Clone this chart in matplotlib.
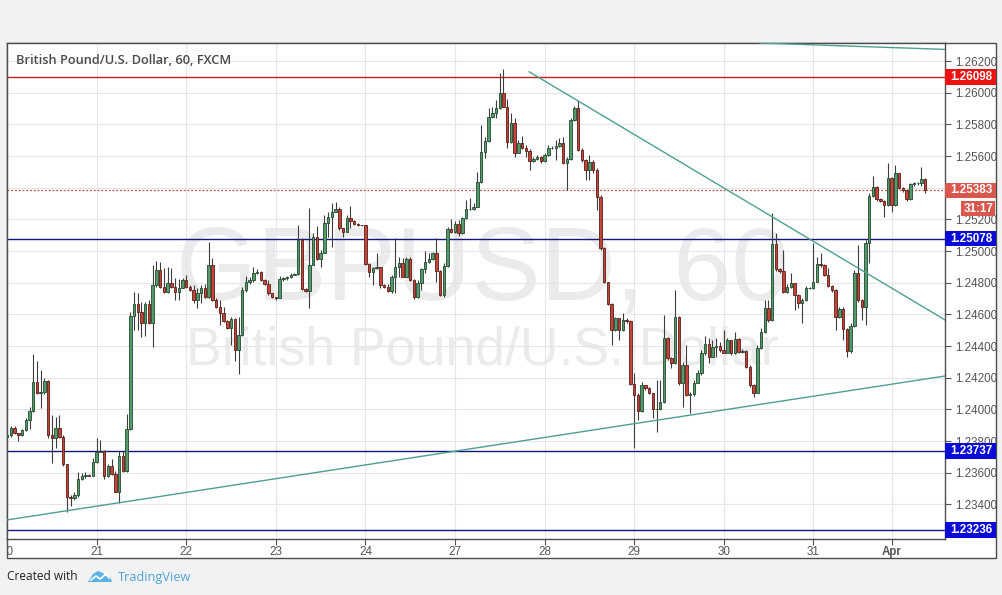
import numpy as np
import matplotlib
matplotlib.use('Agg')
import matplotlib.pyplot as plt
from matplotlib.patches import Rectangle, Polygon
from matplotlib.transforms import Bbox, TransformedBbox, blended_transform_factory

# GBP/USD hourly candles (bar index 0 = 20 Mar, last bar = 3 Apr)
first_open = 1.23828
closes = [
    1.23836, 1.23884, 1.23849, 1.23836, 1.23867, 1.23931, 1.23990, 1.24171, 1.24102, 1.24112,
    1.24181, 1.23838, 1.23817, 1.23880, 1.23828, 1.23653, 1.23449, 1.23438, 1.23459, 1.23558,
    1.23577, 1.23588, 1.23581, 1.23670, 1.23728, 1.23735, 1.23581, 1.23642, 1.23592, 1.23480,
    1.23707, 1.23611, 1.23874, 1.24589, 1.24663, 1.24613, 1.24547, 1.24663, 1.24543, 1.24785,
    1.24880, 1.24775, 1.24739, 1.24800, 1.24775, 1.24739, 1.24768, 1.24817, 1.24775, 1.24754,
    1.24691, 1.24733, 1.24768, 1.24712, 1.24912, 1.24691, 1.24648, 1.24606, 1.24558, 1.24516,
    1.24571, 1.24375, 1.24470, 1.24754, 1.24806, 1.24817, 1.24859, 1.24867, 1.24817, 1.24789,
    1.24733, 1.24707, 1.24701, 1.24821, 1.24827, 1.24834, 1.24850, 1.24852, 1.25069, 1.24762,
    1.24749, 1.24911, 1.25086, 1.24947, 1.24989, 1.25175, 1.25217, 1.25248, 1.25265, 1.25143,
    1.25122, 1.25207, 1.25191, 1.25168, 1.25164, 1.25162, 1.24918, 1.24865, 1.24890, 1.24901,
    1.24785, 1.24775, 1.24749, 1.24838, 1.24897, 1.24926, 1.24838, 1.24947, 1.24817, 1.24707,
    1.24800, 1.24884, 1.24932, 1.24949, 1.24985, 1.24876, 1.24722, 1.24905, 1.25137, 1.25122,
    1.25170, 1.25111, 1.25207, 1.25263, 1.25267, 1.25280, 1.25438, 1.25627, 1.25694, 1.25848,
    1.25873, 1.25901, 1.25996, 1.25911, 1.25690, 1.25806, 1.25621, 1.25680, 1.25648, 1.25631,
    1.25568, 1.25583, 1.25596, 1.25568, 1.25606, 1.25648, 1.25652, 1.25663, 1.25680, 1.25553,
    1.25579, 1.25827, 1.25901, 1.25638, 1.25575, 1.25511, 1.25564, 1.25511, 1.25343, 1.25017,
    1.24802, 1.24665, 1.24501, 1.24575, 1.24501, 1.24564, 1.24558, 1.24160, 1.24090, 1.23992,
    1.24153, 1.24132, 1.24101, 1.24000, 1.24000, 1.24048, 1.24448, 1.24322, 1.24290, 1.24585,
    1.24164, 1.24280, 1.24090, 1.24096, 1.24168, 1.24227, 1.24354, 1.24412, 1.24333, 1.24396,
    1.24400, 1.24375, 1.24358, 1.24438, 1.24354, 1.24442, 1.24365, 1.24371, 1.24270, 1.24154,
    1.24106, 1.24386, 1.24491, 1.24638, 1.24565, 1.25045, 1.24885, 1.24876, 1.24744, 1.24775,
    1.24796, 1.24722, 1.24670, 1.24691, 1.24765, 1.24769, 1.24807, 1.24918, 1.24912, 1.24849,
    1.24779, 1.24754, 1.24586, 1.24632, 1.24506, 1.24371, 1.24527, 1.24859, 1.24691, 1.24649,
    1.25053, 1.25348, 1.25407, 1.25327, 1.25318, 1.25291, 1.25459, 1.25291, 1.25491, 1.25396,
    1.25386, 1.25327, 1.25423, 1.25428, 1.25428, 1.25453, 1.25383]
highs = [
    1.23843, 1.23897, 1.23897, 1.23853, 1.23874, 1.23947, 1.24017, 1.24352, 1.24305, 1.24248,
    1.24196, 1.24183, 1.23964, 1.23954, 1.23964, 1.23838, 1.23657, 1.23459, 1.23480, 1.23602,
    1.23596, 1.23602, 1.23590, 1.23691, 1.23817, 1.23806, 1.23743, 1.23653, 1.23686, 1.23611,
    1.23737, 1.23737, 1.23971, 1.24613, 1.24739, 1.24733, 1.24680, 1.24680, 1.24691, 1.24912,
    1.24937, 1.24933, 1.24891, 1.24901, 1.24891, 1.24827, 1.24823, 1.24827, 1.24848, 1.24785,
    1.24785, 1.24764, 1.24785, 1.24789, 1.25059, 1.24954, 1.24701, 1.24691, 1.24648, 1.24564,
    1.24585, 1.24579, 1.24585, 1.24775, 1.24842, 1.24838, 1.24897, 1.24884, 1.24874, 1.24823,
    1.24817, 1.24733, 1.24711, 1.24842, 1.24838, 1.24842, 1.24859, 1.24859, 1.25164, 1.25080,
    1.24766, 1.25273, 1.25111, 1.25158, 1.25006, 1.25227, 1.25248, 1.25305, 1.25311, 1.25280,
    1.25143, 1.25227, 1.25284, 1.25196, 1.25175, 1.25166, 1.25162, 1.24922, 1.24901, 1.24989,
    1.24897, 1.24791, 1.24791, 1.24848, 1.25080, 1.24964, 1.24954, 1.24964, 1.24964, 1.24821,
    1.24817, 1.24890, 1.25002, 1.24989, 1.24996, 1.25080, 1.24880, 1.24922, 1.25154, 1.25200,
    1.25191, 1.25196, 1.25217, 1.25322, 1.25332, 1.25301, 1.25501, 1.25796, 1.25722, 1.25901,
    1.25911, 1.25953, 1.26126, 1.26147, 1.25958, 1.25873, 1.25838, 1.25701, 1.25726, 1.25669,
    1.25642, 1.25596, 1.25606, 1.25600, 1.25617, 1.25669, 1.25663, 1.25701, 1.25711, 1.25718,
    1.25596, 1.25838, 1.25916, 1.25953, 1.25648, 1.25579, 1.25606, 1.25575, 1.25522, 1.25353,
    1.25027, 1.24806, 1.24669, 1.24585, 1.24575, 1.24606, 1.24575, 1.24564, 1.24227, 1.24101,
    1.24175, 1.24153, 1.24143, 1.24105, 1.24185, 1.24185, 1.24596, 1.24459, 1.24328, 1.24754,
    1.24589, 1.24301, 1.24406, 1.24112, 1.24185, 1.24248, 1.24375, 1.24463, 1.24448, 1.24438,
    1.24449, 1.24428, 1.24501, 1.24449, 1.24438, 1.24491, 1.24449, 1.24379, 1.24375, 1.24280,
    1.24160, 1.24407, 1.24512, 1.24691, 1.24691, 1.25238, 1.25112, 1.24891, 1.25007, 1.24792,
    1.24859, 1.24800, 1.24729, 1.24701, 1.24779, 1.24775, 1.25049, 1.24965, 1.24986, 1.24918,
    1.24891, 1.24786, 1.24758, 1.24649, 1.24649, 1.24512, 1.24544, 1.24880, 1.25038, 1.24695,
    1.25070, 1.25365, 1.25474, 1.25411, 1.25333, 1.25322, 1.25554, 1.25470, 1.25543, 1.25495,
    1.25402, 1.25394, 1.25432, 1.25436, 1.25438, 1.25529, 1.25459]
lows = [
    1.23821, 1.23825, 1.23843, 1.23802, 1.23834, 1.23863, 1.23874, 1.23985, 1.24095, 1.24006,
    1.24095, 1.23817, 1.23659, 1.23754, 1.23821, 1.23644, 1.23350, 1.23392, 1.23428, 1.23449,
    1.23554, 1.23564, 1.23577, 1.23577, 1.23661, 1.23728, 1.23560, 1.23575, 1.23586, 1.23476,
    1.23411, 1.23602, 1.23606, 1.23870, 1.24501, 1.24501, 1.24459, 1.24463, 1.24537, 1.24396,
    1.24775, 1.24768, 1.24733, 1.24735, 1.24768, 1.24691, 1.24691, 1.24764, 1.24768, 1.24747,
    1.24669, 1.24638, 1.24669, 1.24705, 1.24705, 1.24684, 1.24642, 1.24533, 1.24549, 1.24507,
    1.24406, 1.24305, 1.24221, 1.24463, 1.24743, 1.24791, 1.24806, 1.24855, 1.24812, 1.24785,
    1.24722, 1.24701, 1.24690, 1.24701, 1.24812, 1.24817, 1.24827, 1.24846, 1.24848, 1.24754,
    1.24743, 1.24638, 1.24911, 1.24943, 1.24897, 1.24985, 1.25090, 1.25027, 1.25248, 1.25133,
    1.25090, 1.25122, 1.25143, 1.25164, 1.25160, 1.25158, 1.24911, 1.24838, 1.24785, 1.24884,
    1.24764, 1.24766, 1.24743, 1.24733, 1.24733, 1.24838, 1.24834, 1.24834, 1.24812, 1.24695,
    1.24701, 1.24754, 1.24859, 1.24922, 1.24943, 1.24806, 1.24716, 1.24711, 1.24897, 1.25116,
    1.25116, 1.25095, 1.25107, 1.25200, 1.25259, 1.25259, 1.25276, 1.25431, 1.25585, 1.25690,
    1.25844, 1.25838, 1.25894, 1.25907, 1.25648, 1.25684, 1.25596, 1.25617, 1.25642, 1.25596,
    1.25511, 1.25564, 1.25575, 1.25553, 1.25564, 1.25600, 1.25642, 1.25575, 1.25654, 1.25549,
    1.25385, 1.25575, 1.25823, 1.25633, 1.25564, 1.25448, 1.25448, 1.25490, 1.25259, 1.25006,
    1.24796, 1.24659, 1.24406, 1.24497, 1.24438, 1.24497, 1.24543, 1.24153, 1.23754, 1.23932,
    1.23985, 1.24122, 1.24094, 1.23943, 1.23859, 1.23996, 1.24042, 1.24312, 1.24259, 1.24286,
    1.24153, 1.24017, 1.24084, 1.23975, 1.24084, 1.24168, 1.24217, 1.24343, 1.24290, 1.24333,
    1.24333, 1.24365, 1.24354, 1.24354, 1.24344, 1.24350, 1.24358, 1.24358, 1.24259, 1.24144,
    1.24080, 1.24102, 1.24379, 1.24485, 1.24554, 1.24560, 1.24876, 1.24859, 1.24737, 1.24733,
    1.24765, 1.24628, 1.24638, 1.24544, 1.24687, 1.24760, 1.24758, 1.24802, 1.24901, 1.24842,
    1.24775, 1.24744, 1.24501, 1.24575, 1.24438, 1.24333, 1.24354, 1.24523, 1.24680, 1.24565,
    1.24533, 1.24922, 1.25339, 1.25318, 1.25310, 1.25217, 1.25287, 1.25249, 1.25285, 1.25390,
    1.25375, 1.25318, 1.25322, 1.25411, 1.25417, 1.25413, 1.25369]

day_ticks = [0, 24, 48, 72, 96, 120, 144, 168, 192, 216, 237]
day_labels = ['20', '21', '22', '23', '24', '27', '28', '29', '30', '31', 'Apr']
price_ticks = [1.234, 1.236, 1.238, 1.240, 1.242, 1.244, 1.246, 1.248, 1.250,
               1.252, 1.254, 1.256, 1.258, 1.260, 1.262]

resistance = 1.26098
supports = [1.25078, 1.23737, 1.23236]
last_price = 1.25383
countdown = '31:17'

# trend lines as (bar index, price) pairs
trend_top = ([201.7, 252.0], [1.26314, 1.26273])
trend_down = ([139.9, 252.0], [1.26132, 1.24555])
trend_up = ([-1.0, 252.0], [1.23298, 1.24213])

W, H = 1002, 595
def fx(px):
    return px / W
def fy(py):
    return 1 - py / H

fig = plt.figure(figsize=(W / 100, H / 100), dpi=100, facecolor='#f1f2f4')
# white chart panel with frame
fig.patches.append(Rectangle((fx(7), fy(558)), fx(996) - fx(7), fy(43) - fy(558),
                             transform=fig.transFigure, facecolor='white',
                             edgecolor='#4d4d4d', lw=1.0, zorder=-10))

ax = fig.add_axes([fx(7), fy(539), fx(945) - fx(7), fy(43) - fy(539)])
ax.set_facecolor('white')
ax.set_xlim(-0.03, 251.3)
ax.set_ylim(1.23181, 1.26314)

# watermark
ax.text(0.507, 0.482, 'GBPUSD, 60', transform=ax.transAxes, ha='center', va='baseline',
        fontsize=75, color='#ebebeb', family='Liberation Sans', zorder=0)
ax.text(0.507, 0.352, 'British Pound/U.S. Dollar', transform=ax.transAxes, ha='center',
        va='baseline', fontsize=38.5, color='#ebebeb', family='Liberation Sans', zorder=0)

for t in day_ticks:
    ax.axvline(t, color='#e6e6e6', lw=0.8, zorder=0.5)
for p in price_ticks:
    ax.axhline(p, color='#e6e6e6', lw=0.8, zorder=0.5)

# candles
opens = [first_open] + closes[:-1]
idx = np.arange(len(closes))
o = np.array(opens)
c = np.array(closes)
hi = np.maximum(np.array(highs), np.maximum(o, c))
lo = np.minimum(np.array(lows), np.minimum(o, c))
up = c >= o
ax.vlines(idx, lo, hi, color='#3d3d3d', lw=0.8, zorder=2)
body = np.where(np.abs(c - o) < 0.00003, 0.00003, c - o)
ax.bar(idx[up], body[up], bottom=o[up], width=0.66, color='#57996a',
       edgecolor='#1f4a2c', lw=0.6, zorder=3)
ax.bar(idx[~up], body[~up], bottom=o[~up], width=0.66, color='#c4443a',
       edgecolor='#5b1d17', lw=0.6, zorder=3)

# horizontal levels
ax.axhline(resistance, color='#c21f1f', lw=1.0, zorder=1.5)
for s in supports:
    ax.axhline(s, color='#16167a', lw=1.0, zorder=1.5)
ax.axhline(last_price, color='#c0504d', lw=0.9, ls=(0, (1.5, 1.5)), zorder=1.5)

# trend lines
for tx, ty in (trend_top, trend_down, trend_up):
    ax.plot(tx, ty, color='#4f9f91', lw=1.0, zorder=4)

# axes styling
for sp in ax.spines.values():
    sp.set_color('#4d4d4d')
    sp.set_linewidth(1.0)
ax.yaxis.tick_right()
ax.set_yticks(price_ticks)
# 1.25400 sits fully under the last-price tag, as on the reference
ax.set_yticklabels(['' if abs(p - 1.254) < 1e-9 else '%.5f' % p for p in price_ticks])
ax.set_xticks(day_ticks)
ax.set_xticklabels(day_labels)
ax.tick_params(axis='y', right=True, left=False, length=4, width=0.8, color='#555555',
               labelcolor='#555555', labelsize=8.4, pad=3)
ax.tick_params(axis='x', length=4, width=0.8, color='#555555', labelcolor='#555555',
               labelsize=8.4, pad=1)
clip = TransformedBbox(Bbox([[fx(7), 0], [1, 1]]), fig.transFigure)
for lab in ax.get_xticklabels() + ax.get_yticklabels():
    lab.set_family('Liberation Sans')
for lab in ax.get_xticklabels():
    lab.set_clip_box(clip)
    lab.set_clip_on(True)
ax.get_xticklabels()[-1].set_fontweight('bold')

# price labels on the scale
bt = blended_transform_factory(fig.transFigure, ax.transData)
hpx = 0.000985
def price_box(p, text, color, x0=945, x1=996):
    ax.add_patch(Rectangle((fx(x0), p - hpx / 2), fx(x1) - fx(x0), hpx, transform=bt,
                           facecolor=color, edgecolor='none', clip_on=False, zorder=6))
    ax.text(fx((x0 + x1) / 2 + 1), p, text, transform=bt, ha='center', va='center',
            color='white', fontsize=8.4, fontweight='bold', family='Liberation Sans',
            clip_on=False, zorder=7)

price_box(resistance, '%.5f' % resistance, '#ee1111')
for s in supports:
    price_box(s, '%.5f' % s, '#0b0bd8')
price_box(last_price, '%.5f' % last_price, '#d9574c')
price_box(1.25268, countdown, '#d9574c', x0=961, x1=995)

# title
fig.text(fx(16), fy(60), 'British Pound/U.S. Dollar, 60, FXCM', ha='left', va='center',
         fontsize=9.2, color='#4a4a4a', family='Open Sans', fontweight='semibold')

# footer
fig.text(fx(7), fy(577), 'Created with', ha='left', va='center', fontsize=8.6,
         color='#222222', family='Open Sans')
logo = [(88, 582), (93, 574), (98, 571), (103, 573), (106, 576), (110, 577), (112, 582)]
fig.patches.append(Polygon([(fx(x), fy(y)) for x, y in logo], closed=True,
                           transform=fig.transFigure, facecolor='#5eb1e4',
                           edgecolor='none'))
zig = [(91, 580), (96, 576), (100, 579), (106, 574), (109, 578)]
fig.lines.append(plt.Line2D([fx(x) for x, y in zig], [fy(y) for x, y in zig],
                            transform=fig.transFigure, color='white', lw=1.2))
fig.text(fx(118), fy(577), 'TradingView', ha='left', va='center', fontsize=9.2,
         color='#4fa3d6', family='Open Sans')

fig.savefig('out.png', dpi=100, facecolor=fig.get_facecolor())
